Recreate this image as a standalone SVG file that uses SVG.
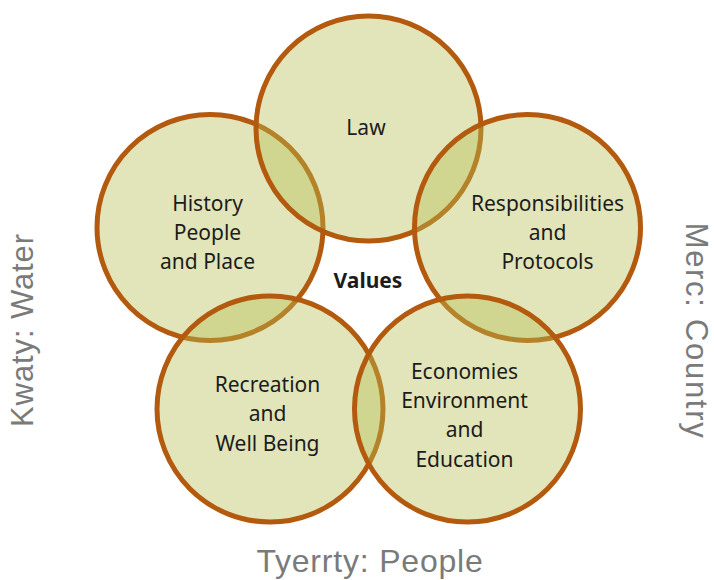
<svg xmlns="http://www.w3.org/2000/svg" width="714" height="580" viewBox="0 0 714 580">
<style>
.c{fill:rgb(182,190,80);fill-opacity:0.4;stroke:#b35a0f;stroke-width:5}
.t{font-family:"Noto Sans","Liberation Sans",sans-serif;font-size:21px;fill:#1c1c1c;text-anchor:middle}
.b{font-family:"Noto Sans","Liberation Sans",sans-serif;font-size:21px;font-weight:bold;fill:#1c1c1c;text-anchor:middle}
.g{font-family:"Liberation Sans",Arial,sans-serif;fill:#7a7a7a;text-anchor:middle}
</style>
<rect width="714" height="580" fill="#ffffff"/>
<g id="connectors"></g>
<g id="history">
<circle class="c" cx="210" cy="227.5" r="113"/>
<text class="t" x="207.5" y="211">History</text>
<text class="t" x="207.5" y="240">People</text>
<text class="t" x="207.5" y="269">and Place</text>
</g>
<g id="law">
<circle class="c" cx="368.5" cy="128.5" r="112.5"/>
<text class="t" x="366" y="135">Law</text>
</g>
<g id="responsibilities">
<circle class="c" cx="527.5" cy="227.5" r="113"/>
<text class="t" x="547.5" y="211">Responsibilities</text>
<text class="t" x="547.5" y="240">and</text>
<text class="t" x="547.5" y="269">Protocols</text>
</g>
<g id="recreation">
<circle class="c" cx="270" cy="409" r="113"/>
<text class="t" x="267.5" y="391.5">Recreation</text>
<text class="t" x="267.5" y="421">and</text>
<text class="t" x="267.5" y="450.5">Well Being</text>
</g>
<g id="economies">
<circle class="c" cx="467.5" cy="409" r="113"/>
<text class="t" x="464.5" y="379">Economies</text>
<text class="t" x="464.5" y="408">Environment</text>
<text class="t" x="464.5" y="437">and</text>
<text class="t" x="464.5" y="466.5">Education</text>
</g>
<g id="values">
<text class="b" x="368" y="288">Values</text>
</g>
<g id="kwaty">
<text class="g" font-size="31" letter-spacing="0.9" transform="translate(33,330) rotate(-90)">Kwaty: Water</text>
</g>
<g id="merc">
<text class="g" font-size="31" letter-spacing="1.7" transform="translate(686,331) rotate(90)">Merc: Country</text>
</g>
<g id="tyerrty">
<text class="g" font-size="32" letter-spacing="0.8" x="370" y="572">Tyerrty: People</text>
</g>
</svg>
